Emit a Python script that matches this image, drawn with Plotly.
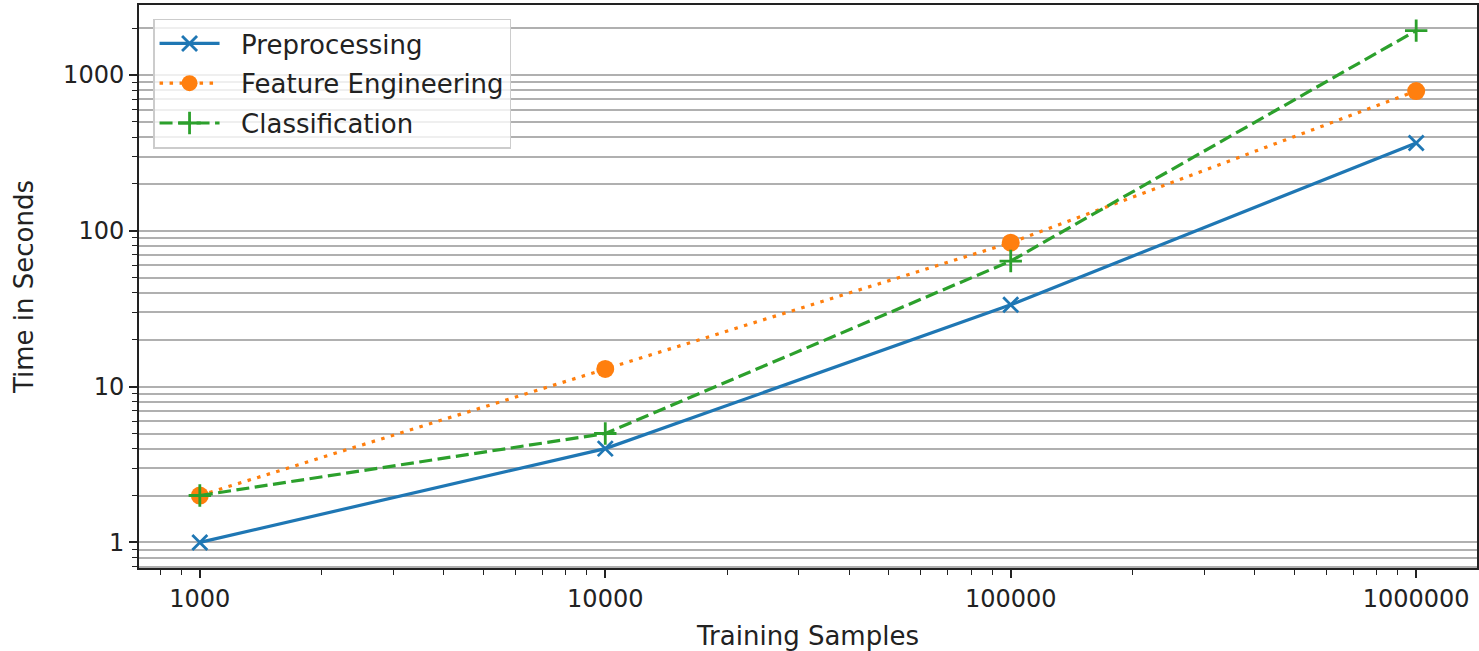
import plotly.graph_objects as go
import numpy as np

samples = [1000, 10000, 100000, 1000000]
preprocessing = [1, 4, 33.5, 367]
feature_eng = [2, 13, 84, 790]
classification = [2, 5, 64, 1930]
x_ticks = [1000, 10000, 100000, 1000000]
x_tick_labels = ["1000", "10000", "100000", "1000000"]
y_ticks = [1, 10, 100, 1000]
y_tick_labels = ["1", "10", "100", "1000"]

FONT = "DejaVu Sans"
FS_TICK = 24
FS_TEXT = 26
NB = "\u00a0\u00a0"

fig = go.Figure()
fig.add_trace(go.Scatter(
    x=samples, y=preprocessing, name=NB + "Preprocessing", mode="lines+markers",
    legendgroup="a",
    line=dict(color="#1f77b4", width=3.2),
    marker=dict(symbol="x-thin", size=15, line=dict(color="#1f77b4", width=2.8), color="#1f77b4"),
))
fig.add_trace(go.Scatter(
    x=samples, y=feature_eng, name=NB + "Feature Engineering", mode="lines+markers",
    legendgroup="b",
    line=dict(color="#ff7f0e", width=3.2, dash="3.5px,6.5px"),
    marker=dict(symbol="circle", size=18, color="#ff7f0e"),
))
fig.add_trace(go.Scatter(
    x=samples, y=classification, name=NB + "Classification", mode="lines+markers",
    legendgroup="c",
    line=dict(color="#2ca02c", width=3.2, dash="13px,5.5px"),
    marker=dict(symbol="cross-thin", size=16, line=dict(color="#2ca02c", width=2.8), color="#2ca02c"),
))

ymin = np.log10(min(preprocessing))
ymax = np.log10(max(classification))
ypad = 0.05 * (ymax - ymin)
xmin = np.log10(min(samples))
xmax = np.log10(max(samples))
xpad = 0.05 * (xmax - xmin)

x_minor = [k * 10 ** e for e in range(2, 7) for k in range(2, 10)]
y_minor = [k * 10 ** e for e in range(-1, 4) for k in range(2, 10)]

fig.update_layout(
    width=1479, height=651,
    margin=dict(l=139, r=2, t=5, b=83),
    paper_bgcolor="white", plot_bgcolor="white",
    font=dict(family=FONT, size=FS_TICK, color="#222"),
    showlegend=True,
    legend=dict(
        x=0.0105, y=0.976, xanchor="left", yanchor="top",
        bgcolor="rgba(255,255,255,0.8)", bordercolor="#cccccc", borderwidth=1.5,
        font=dict(family=FONT, size=FS_TEXT, color="#222"),
        itemwidth=60, tracegroupgap=3,
    ),
    xaxis=dict(
        type="log", range=[xmin - xpad, xmax + xpad],
        tickvals=x_ticks, ticktext=x_tick_labels,
        ticks="outside", ticklen=8, tickwidth=1.5, tickcolor="#222",
        showgrid=False, zeroline=False, automargin=False,
        showline=True, linecolor="#222", linewidth=2, mirror=True,
        minor=dict(tickmode="array", tickvals=x_minor, ticks="outside", ticklen=5,
                   tickwidth=1.2, tickcolor="#222", showgrid=False),
        title=dict(text="Training Samples", font=dict(family=FONT, size=FS_TEXT), standoff=16),
    ),
    yaxis=dict(
        type="log", range=[ymin - ypad, ymax + ypad],
        tickvals=y_ticks, ticktext=y_tick_labels,
        ticks="outside", ticklen=8, tickwidth=1.5, tickcolor="#222",
        showgrid=True, gridcolor="#b0b0b0", gridwidth=1.6,
        zeroline=False, automargin=False,
        showline=True, linecolor="#222", linewidth=2, mirror=True,
        minor=dict(tickmode="array", tickvals=y_minor, ticks="outside", ticklen=5,
                   tickwidth=1.2, tickcolor="#222",
                   showgrid=True, gridcolor="#b0b0b0", gridwidth=1.6),
        title=dict(text="Time in Seconds", font=dict(family=FONT, size=FS_TEXT), standoff=22),
    ),
)

fig.write_html("out.html", config={"displayModeBar": False},
               post_script="document.body.style.margin='0px';")
